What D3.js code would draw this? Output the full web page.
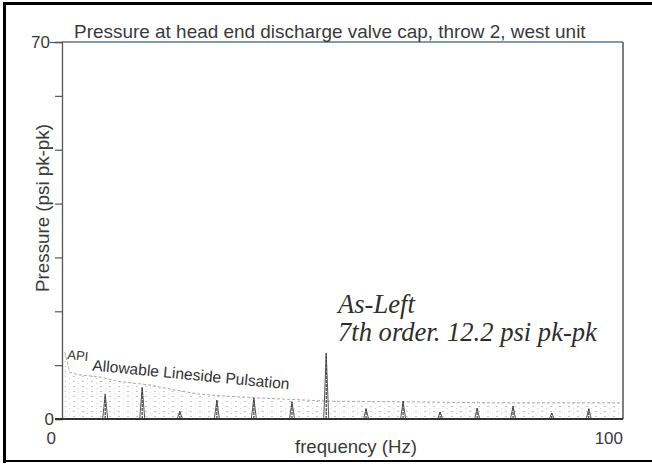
<!DOCTYPE html>
<html>
<head>
<meta charset="utf-8">
<script src="https://cdn.jsdelivr.net/npm/d3@7"></script>
<style>
  html, body { margin: 0; padding: 0; background: #fff; }
  svg { display: block; }
</style>
</head>
<body>
<svg id="chart" width="652" height="469"></svg>
<script>
// ---------- data ----------
const titleText = "Pressure at head end discharge valve cap, throw 2, west unit";
const xLabelText = "frequency (Hz)";
const yLabelText = "Pressure (psi pk-pk)";
const xTickValues = [0, 100];
const yTickValues = [0, 10, 20, 30, 40, 50, 60, 70];
const yTickLabels = [0, 70];

// harmonic peaks (Hz, psi pk-pk)
const peakFreq = [7.7, 14.3, 21.0, 27.6, 34.2, 41.0, 47.1, 54.2, 60.8, 67.4, 74.0, 80.4, 87.3, 93.9];
const peakAmp  = [4.6, 5.9, 1.5, 3.5, 3.9, 3.2, 12.2, 1.9, 3.3, 1.3, 2.0, 2.4, 1.1, 1.9];

// API allowable lineside pulsation curve
const apiFreq  = [0.5, 1.4, 3, 6.8, 10, 15.7, 20, 24.6, 30, 35.3, 47.8, 60.2, 78, 100];
const apiAllow = [12.4, 8.7, 8.2, 7.8, 7.0, 6.3, 5.4, 4.6, 4.2, 3.9, 3.3, 3.2, 3.0, 3.0];

const noteLine1 = "As-Left";
const noteLine2 = "7th order. 12.2 psi pk-pk";
const apiLabelSmall = "API";
const apiLabelMain = "Allowable Lineside Pulsation";

// ---------- layout ----------
const svg = d3.select("#chart");
const x = d3.scaleLinear().domain([0, 100]).range([62, 623]);
const y = d3.scaleLinear().domain([0, 70]).range([419, 42]);
const textColor = "#3a3a3a";
const sans = "'Liberation Sans', Arial, sans-serif";

function fit(sel, target) {
  const n = sel.node();
  const fs = parseFloat(sel.attr("font-size"));
  const w = n.getComputedTextLength();
  sel.attr("font-size", (fs * target / w).toFixed(2));
}

// outer frame
svg.append("rect").attr("x", 3).attr("y", 2).attr("width", 3).attr("height", 461).attr("fill", "#000");
svg.append("rect").attr("x", 3).attr("y", 2).attr("width", 649).attr("height", 3).attr("fill", "#000");
svg.append("rect").attr("x", 3).attr("y", 460).attr("width", 649).attr("height", 2).attr("fill", "#000");

// stipple pattern
const defs = svg.append("defs");
const pat = defs.append("pattern").attr("id", "stip").attr("patternUnits", "userSpaceOnUse")
  .attr("width", 9).attr("height", 5);
pat.append("rect").attr("x", 1).attr("y", 1).attr("width", 2).attr("height", 1).attr("fill", "#c0c0c0");
pat.append("rect").attr("x", 6).attr("y", 3).attr("width", 1).attr("height", 1).attr("fill", "#cfcfcf");

const apiData = apiFreq.map((f, i) => ({ f, v: apiAllow[i] }));
const g = svg.append("g");
g.append("path").datum(apiData)
  .attr("d", d3.area().x(d => x(d.f)).y0(y(0)).y1(d => y(d.v)))
  .attr("fill", "url(#stip)").attr("opacity", 0.9);
g.append("path").datum(apiData)
  .attr("d", d3.line().x(d => x(d.f)).y(d => y(d.v)))
  .attr("fill", "none").attr("stroke", "#a8a8a8").attr("stroke-width", 1)
  .attr("stroke-dasharray", "3,2");

// peaks
const peaks = peakFreq.map((f, i) => ({ f, v: peakAmp[i] }));
const hw = 0.45;
g.selectAll("path.peak").data(peaks).enter().append("path").attr("class", "peak")
  .attr("d", d => `M${x(d.f - hw)},${y(0)}L${x(d.f)},${y(d.v)}L${x(d.f + hw)},${y(0)}`)
  .attr("fill", "none").attr("stroke", "#555").attr("stroke-width", 1);
g.selectAll("line.peakc").data(peaks).enter().append("line").attr("class", "peakc")
  .attr("x1", d => x(d.f)).attr("x2", d => x(d.f))
  .attr("y1", y(0)).attr("y2", d => y(d.v))
  .attr("stroke", "#444").attr("stroke-width", 1.2).attr("stroke-dasharray", "3,1");

// axes frame
svg.append("line").attr("x1", x(0)).attr("x2", x(100)).attr("y1", y(70)).attr("y2", y(70))
  .attr("stroke", "#5b7690").attr("stroke-width", 1.5);
svg.append("line").attr("x1", x(100)).attr("x2", x(100)).attr("y1", y(70)).attr("y2", y(0))
  .attr("stroke", "#555").attr("stroke-width", 1.5);

// y axis
const yAxis = d3.axisLeft(y).tickValues(yTickValues).tickSize(7)
  .tickFormat(d => yTickLabels.includes(d) ? d : "");
const ya = svg.append("g").attr("transform", `translate(${x(0)},0)`).call(yAxis);
ya.select(".domain").attr("stroke", "#555").attr("stroke-width", 1.3);
ya.selectAll(".tick line").attr("stroke", "#555").attr("stroke-width", 1.2);
ya.selectAll(".tick text").attr("font-family", sans).attr("font-size", 17)
  .attr("fill", textColor).attr("x", -8).attr("dy", "0.35em");
ya.selectAll(".tick").filter(d => d === 70).select("line").attr("x2", -12);
ya.selectAll(".tick").filter(d => d === 70).select("text").attr("x", -12);

// x axis
svg.append("line").attr("x1", x(0) - 7).attr("x2", x(100)).attr("y1", y(0)).attr("y2", y(0))
  .attr("stroke", "#333").attr("stroke-width", 1.8);
svg.selectAll("text.xt").data(xTickValues).enter().append("text").attr("class", "xt")
  .attr("x", d => x(d) + (d === 0 ? -6 : 0)).attr("y", 444)
  .attr("text-anchor", "end").attr("font-family", sans).attr("font-size", 17)
  .attr("fill", textColor).text(d => d);

// title
const title = svg.append("text").attr("x", 74).attr("y", 38)
  .attr("font-family", sans).attr("font-size", 16).attr("fill", textColor).text(titleText);
fit(title, 512);

// axis labels
const xl = svg.append("text").attr("x", 295).attr("y", 453)
  .attr("font-family", sans).attr("font-size", 16).attr("fill", textColor).text(xLabelText);
fit(xl, 122);
const yl = svg.append("text").attr("transform", "translate(49,208) rotate(-90)")
  .attr("text-anchor", "middle").attr("font-family", sans).attr("font-size", 16)
  .attr("fill", textColor).text(yLabelText);
fit(yl, 168);

// annotation
const serif = "'Liberation Serif', 'DejaVu Serif', serif";
const n2 = svg.append("text").attr("x", 338).attr("y", 341)
  .attr("font-family", serif).attr("font-style", "italic").attr("font-size", 19)
  .attr("fill", "#2e2e2e").text(noteLine2);
fit(n2, 259);
const n1 = svg.append("text").attr("x", 338).attr("y", 313)
  .attr("font-family", serif).attr("font-style", "italic").attr("font-size", n2.attr("font-size"))
  .attr("fill", "#2e2e2e").text(noteLine1);

// API label
const api = svg.append("text").attr("transform", "translate(67,359) rotate(5.5)")
  .attr("font-family", sans).attr("fill", "#333");
api.append("tspan").attr("font-size", 13).text(apiLabelSmall);
const apiMain = api.append("tspan").attr("font-size", 14).attr("dx", 5).attr("dy", 9).text(apiLabelMain);
const mw = apiMain.node().getComputedTextLength();
apiMain.attr("font-size", (14 * 198 / mw).toFixed(2));
</script>
</body>
</html>
